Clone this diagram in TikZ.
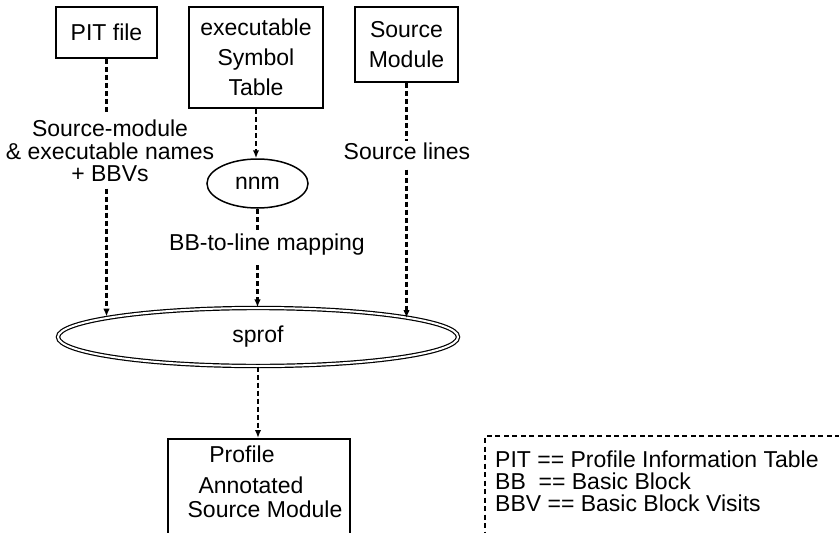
\documentclass[tikz,border=0pt]{standalone}
\usepackage{fontspec}
\setmainfont{Liberation Sans}
\usetikzlibrary{arrows.meta,shapes.geometric}
\begin{document}
\begin{tikzpicture}[x=1pt,y=-1pt,
  every node/.style={font=\fontsize{23}{30}\selectfont},
  box/.style={draw, line width=1.8pt, inner sep=0pt, align=center},
  dashline/.style={line width=2.2pt, dash pattern=on 5pt off 3pt},
  conn/.style={dashline, -{Latex[length=8pt,width=6.5pt]}},
  lab/.style={inner xsep=1pt, align=center, font=\fontsize{23}{22.5}\selectfont},
  txt/.style={inner sep=0pt, anchor=base},
  legtxt/.style={inner sep=0pt, anchor=base west}]
\useasboundingbox (0,0) rectangle (839,533);
% boxes
\node[box, minimum width=101pt, minimum height=51pt] (pit) at (106.5,32.5) {PIT file};
\node[box, minimum width=134pt, minimum height=101pt] (exe) at (256,57.5) {executable\\Symbol\\Table};
\node[box, minimum width=103pt, minimum height=75pt] (src) at (406.5,44.5) {Source\\Module};
\node[draw, ellipse, line width=1.5pt, minimum width=101pt, minimum height=49pt, inner sep=0pt] (nnm) at (257.5,183.5) {nnm};
\node[draw, ellipse, double, double distance=2pt, line width=1.2pt, minimum width=400pt, minimum height=58pt, inner sep=0pt] (sprof) at (258,337) {sprof};
\node[box, minimum width=182pt, minimum height=130pt, anchor=north] (prof) at (259,438) {};
\node[txt] (p1) at (242,462) {Profile};
\node[txt] (p2) at (251,493) {Annotated};
\node[txt] (p3) at (265,517) {Source Module};
% labels
\node[lab, inner ysep=6.5pt] (l1) at (110,151) {Source-module\\ \& executable names\\ + BBVs};
\node[lab, anchor=base, inner ysep=0.5pt, text height=17pt, text depth=10pt] (l2) at (407,159) {Source lines};
\node[lab, anchor=base, inner ysep=0pt, text height=18pt, text depth=15pt] (l3) at (267,250) {BB-to-line mapping};
% connectors
\draw[dashline] (pit.south) -- (pit.south |- l1.north);
\draw[conn] (pit.south |- l1.south) -- (pit.south |- sprof.172.9);
\draw[dashline] (src.south) -- (src.south |- l2.north);
\draw[conn] (src.south |- l2.south) -- (src.south |- sprof.7.3);
\draw[conn] (exe.south) -- (exe.south |- nnm.north);
\draw[dashline] (nnm.south) -- (nnm.south |- l3.north);
\draw[conn] (nnm.south |- l3.south) -- (nnm.south |- sprof.north);
\draw[conn] (sprof.south) -- (sprof.south |- prof.north);
% legend
\node[draw, line width=2pt, dash pattern=on 5pt off 3.5pt, minimum width=400pt, minimum height=150pt, anchor=north west, inner sep=0pt] (leg) at (484,435) {};
\node[legtxt] (t1) at (495,467) {PIT == Profile Information Table};
\node[legtxt] (t2) at (495,489) {BB\ \ == Basic Block};
\node[legtxt] (t3) at (495,511) {BBV == Basic Block Visits};
\end{tikzpicture}
\end{document}
